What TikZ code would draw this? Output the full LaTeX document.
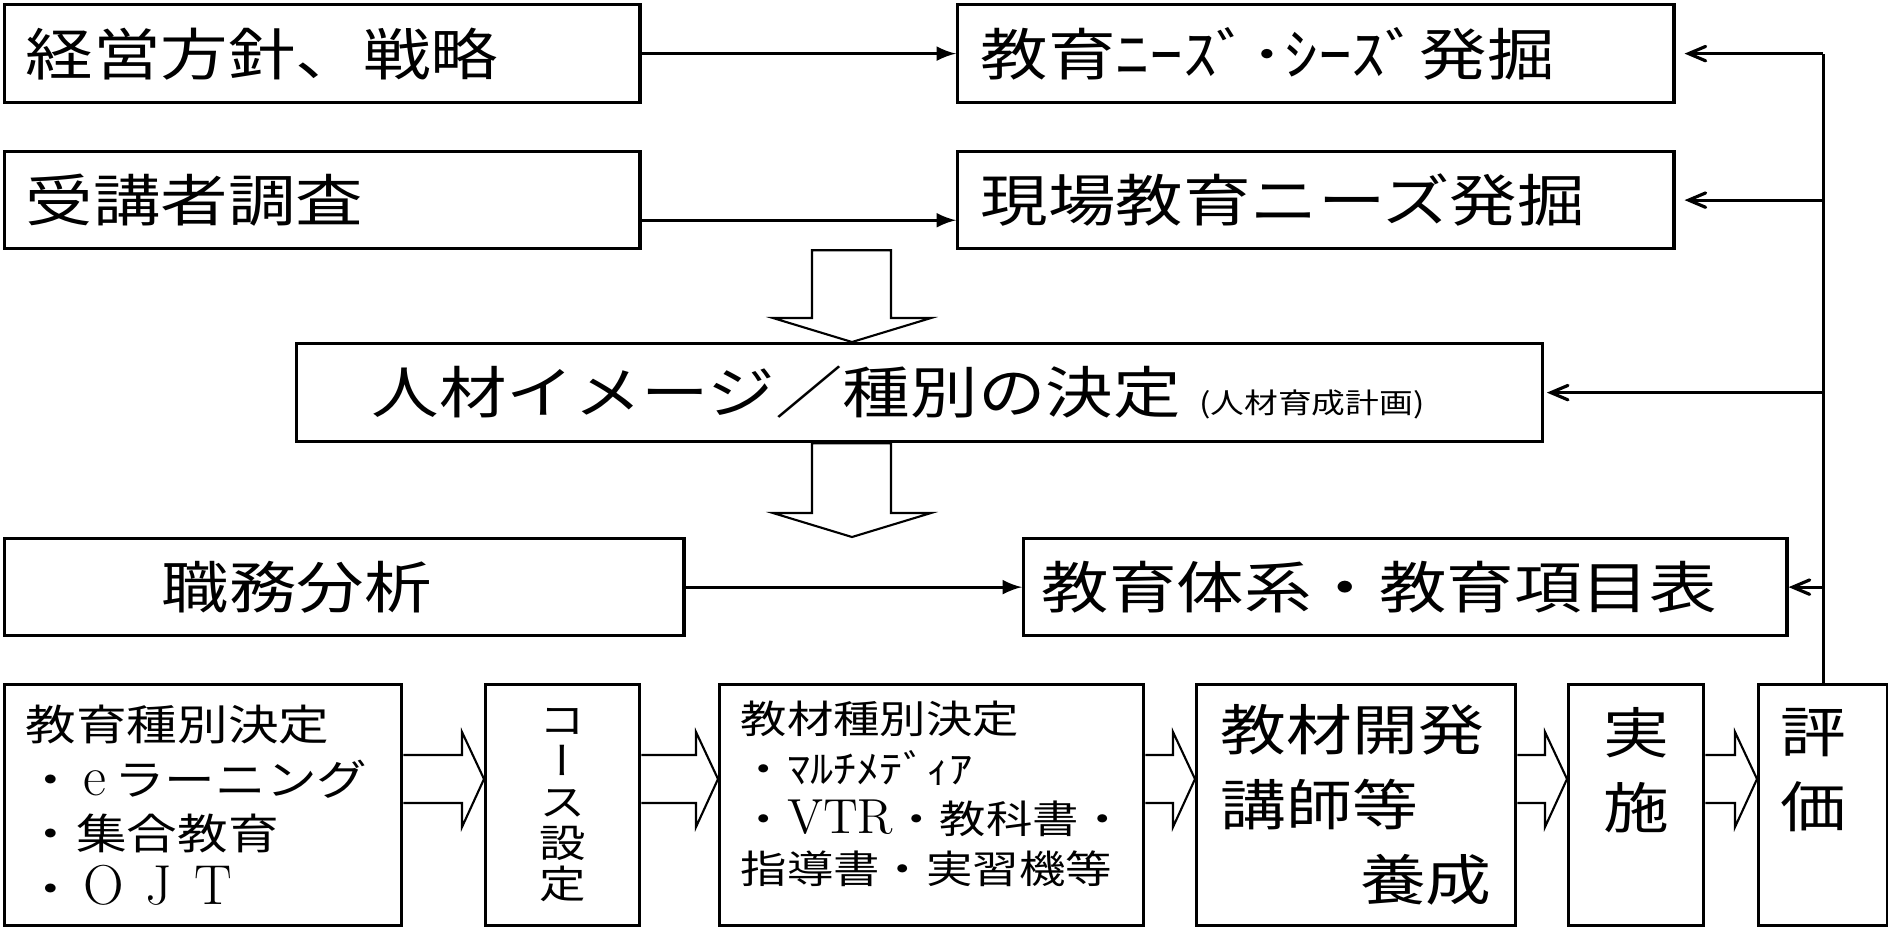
\documentclass[tikz,border=0pt]{standalone}
\usepackage{fontspec}
\usepackage{tikz}
\usetikzlibrary{arrows,calc}
\newfontfamily\jp[FakeStretch=1.2]{Noto Sans CJK JP}
\newfontfamily\jptate[FakeStretch=1.2,RawFeature=+vert]{Noto Sans CJK JP}
\newcommand\fs[2]{\fontsize{#1}{#2}\selectfont}
\newcommand\zen[2][1.3em]{\makebox[#1]{\rmfamily\fs{16pt}{16pt}#2}}

\begin{document}
\begin{tikzpicture}[x=0.01cm,y=-0.01cm,
		box/.style={draw,line width=0.9pt,anchor=north west,inner ysep=0pt,align=left,font=\jp\fs{16pt}{19pt}},
		link/.style={line width=0.9pt,-latex},
		back/.style={line width=0.9pt,-angle 45},
		hollow/.style={line width=0.6pt}]
		\useasboundingbox (0,0) rectangle (1888,926);

		\node[box,minimum width=6.35cm,minimum height=0.98cm,inner xsep=0.21cm,text width=5.93cm] (keiei) at (3,3) {経営方針、戦略};
		\node[box,minimum width=6.35cm,minimum height=0.97cm,inner xsep=0.21cm,text width=5.93cm] (jukou) at (3,150) {受講者調査};
		\node[box,minimum width=7.16cm,minimum height=0.98cm,inner xsep=0.23cm,text width=6.70cm] (needs) at (956,3) {教育ﾆｰｽﾞ･ｼｰｽﾞ発掘};
		\node[box,minimum width=7.16cm,minimum height=0.97cm,inner xsep=0.23cm,text width=6.70cm] (genba) at (956,150) {現場教育ニーズ発掘};
		\node[box,minimum width=12.45cm,minimum height=0.98cm,inner xsep=0.75cm,text width=10.95cm] (jinzai) at (295,342) {人材イメージ／種別の決定 {\fs{8pt}{9pt}(人材育成計画)}};
		\node[box,minimum width=6.79cm,minimum height=0.97cm,inner xsep=1.57cm,text width=3.65cm] (shokumu) at (3,537) {職務分析};
		\node[box,minimum width=7.63cm,minimum height=0.97cm,inner xsep=0.18cm,text width=7.27cm] (taikei) at (1022,537) {教育体系・教育項目表};

		\node[box,minimum width=3.97cm,minimum height=2.41cm,inner xsep=0.21cm,text width=3.55cm,font=\jp\fs{12pt}{15.6pt}] (shubetsu) at (3,683)
			{教育種別決定\\・\zen[0.9em]{e}ラーニング\\・集合教育\\・\zen{O}\zen{J}\zen{T}};
		\node[box,minimum width=1.54cm,minimum height=2.41cm,align=center,font=\jptate\fs{11pt}{11.7pt}] (course) at (484,683)
			{コ\\ー\\ス\\設\\定};
		\node[box,minimum width=4.24cm,minimum height=2.41cm,inner xsep=0.21cm,text width=3.82cm,font=\jp\fs{11pt}{14.2pt}] (kyozai) at (718,683)
			{教材種別決定\\・ﾏﾙﾁﾒﾃﾞｨｱ\\・{\rmfamily\fs{14pt}{14pt}VTR}・教科書・\\指導書・実習機等\\[-7pt]\mbox{}};
		\node[box,minimum width=3.19cm,minimum height=2.41cm,inner xsep=0.24cm,text width=2.71cm,font=\jp\fs{15.6pt}{21.3pt}] (kaihatsu) at (1195,683)
			{教材開発\\講師等\\\hspace*{\fill}養成};
		\node[box,minimum width=1.35cm,minimum height=2.41cm,align=center,font=\jp\fs{15.6pt}{21.3pt}] (jisshi) at (1567,683)
			{実\\施\\\mbox{}};
		\node[box,minimum width=1.29cm,minimum height=2.41cm,inner xsep=0.22cm,text width=0.85cm,font=\jp\fs{15.6pt}{21.3pt}] (hyouka) at (1757,683)
			{評\\価\\\mbox{}};

		\draw[link] (keiei) -- (needs);
		\draw[link] ($(jukou.south east)+(0,-30)$) -- ($(genba.south west)+(0,-30)$);
		\draw[link] (shokumu) -- (taikei);

		\foreach \src/\dst in {jukou/jinzai,jinzai/shokumu}
			\draw[hollow] (\src.south -| 812,0) -- ($(\dst.north -| 812,0)+(0,-24)$) -- ($(\dst.north -| 773,0)+(0,-24)$) -- (\dst.north -| 852,0)
				-- ($(\dst.north -| 931,0)+(0,-24)$) -- ($(\dst.north -| 891,0)+(0,-24)$) -- (\src.south -| 891,0) -- cycle;

		\foreach \src/\dst in {shubetsu/course,course/kyozai,kyozai/kaihatsu,kaihatsu/jisshi,jisshi/hyouka}
			\draw[hollow] (\src.east |- 0,755) -- ($(\dst.west |- 0,755)+(-22,0)$) -- ($(\dst.west |- 0,732)+(-22,0)$) -- (\dst.west |- 0,779)
				-- ($(\dst.west |- 0,827)+(-22,0)$) -- ($(\dst.west |- 0,803)+(-22,0)$) -- (\src.east |- 0,803);

		\draw[line width=0.9pt] (hyouka.north) -- (hyouka.north |- needs.east);
		\foreach \dst/\gap in {needs/9,genba/9,jinzai/3,taikei/0}
			\draw[back] (hyouka.north |- \dst.east) -- ($(\dst.east)+(\gap,0)$);
	\end{tikzpicture}
\end{document}
